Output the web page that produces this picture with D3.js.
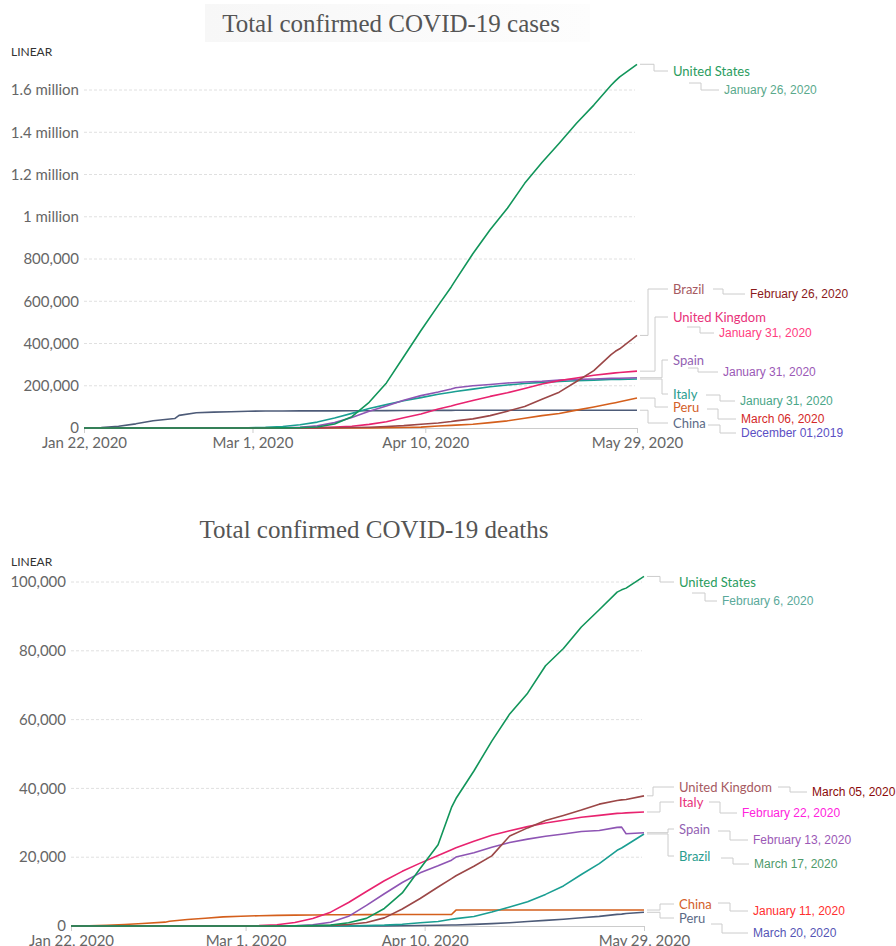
<!DOCTYPE html>
<html>
<head>
<meta charset="utf-8">
<script src="https://cdnjs.cloudflare.com/ajax/libs/d3/7.8.5/d3.min.js"></script>
<style>
  body { margin: 0; background: #fff; }
  svg { display: block; }
</style>
</head>
<body>
<svg width="896" height="946"></svg>
<script>

// sample dates shared by every series
var dates = ["2020-01-22","2020-01-26","2020-01-30","2020-02-03","2020-02-07","2020-02-12","2020-02-13",
  "2020-02-17","2020-02-21","2020-02-25","2020-02-29","2020-03-04","2020-03-08","2020-03-12","2020-03-16",
  "2020-03-20","2020-03-24","2020-03-28","2020-04-01","2020-04-05","2020-04-09","2020-04-13","2020-04-16",
  "2020-04-17","2020-04-21","2020-04-25","2020-04-29","2020-05-03","2020-05-07","2020-05-11","2020-05-15",
  "2020-05-19","2020-05-23","2020-05-24","2020-05-25","2020-05-29"];

var xTickDates = ["2020-01-22", "2020-03-01", "2020-04-10", "2020-05-29"];

// total confirmed cases
var casesUS = [1,5,6,11,12,13,14,15,15,53,68,158,537,1663,4632,19100,53740,121478,213372,337072,461437,580619,667801,699706,825041,938154,1039909,1158040,1257023,1347881,1442824,1528568,1622670,1643246,1662302,1721750];
var casesBrazil = [0,0,0,0,0,0,0,0,0,0,2,4,25,52,234,904,2247,3904,6836,11130,17857,23430,30425,33682,43079,58509,79685,101826,135773,169594,220291,271885,347398,363211,374898,438238];
var casesUK = [0,0,0,2,3,8,9,9,9,13,23,86,273,459,1551,4014,8164,17312,29865,48440,65872,89570,104145,109769,130184,149569,166441,186599,207977,224332,237071,249619,258504,260916,262547,269127];
var casesSpain = [0,0,0,1,1,2,2,2,2,6,84,222,673,3146,9942,25374,49515,78797,104118,131646,153222,170099,184948,190839,200210,205905,212917,217466,221447,227436,230183,232037,234824,235290,235400,237906];
var casesItaly = [0,0,0,2,3,3,3,3,20,322,1128,3089,7375,15113,27980,47021,69176,92472,110574,128948,143626,159516,168941,172434,183957,195351,203591,210717,215858,219814,223885,226699,229327,229858,230158,231732];
var casesPeru = [0,0,0,0,0,0,0,0,0,0,0,0,7,22,86,234,416,671,1323,2281,4342,9784,12491,13489,17837,25331,33931,45928,58526,68822,84495,99483,115754,119959,123979,141779];
var casesChina = [548,2116,8123,19716,34110,44653,59895,72436,75077,77262,79356,80270,80699,80932,81033,81250,81591,81999,82361,82602,82883,83213,83402,83760,83864,83912,83944,83959,83970,84010,84029,84063,84084,84095,84102,84106];

var casesNames = ["United States", "Brazil", "United Kingdom", "Spain", "Italy", "Peru", "China"];
var casesFirst = ["January 26, 2020", "February 26, 2020", "January 31, 2020", "January 31, 2020", "January 31, 2020", "March 06, 2020", "December 01,2019"];
var casesYTicks = [0, 200000, 400000, 600000, 800000, 1000000, 1200000, 1400000, 1600000];

// total confirmed deaths
var deathsUS = [0,0,0,0,0,0,0,0,0,0,1,11,21,41,97,260,944,2220,5102,9618,16697,23640,34475,37054,45063,53755,61656,67680,75662,80682,86912,91921,97049,97720,98220,101617];
var deathsUK = [0,0,0,0,0,0,0,0,0,0,0,0,3,8,56,178,423,1021,2357,4943,7993,11347,13759,14607,17378,20381,26166,28520,30689,32141,33693,35422,36475,36675,36793,37837];
var deathsItaly = [0,0,0,0,0,0,0,0,1,11,29,107,366,1016,2158,4032,6820,10023,13155,15887,18279,20465,22170,22745,24648,26384,27682,28884,29958,30739,31610,32169,32735,32785,32877,33142];
var deathsSpain = [0,0,0,0,0,0,0,0,0,0,0,2,17,86,342,1093,2808,5982,9387,12641,15447,17489,19130,20043,21282,22902,24275,25264,26070,26744,27459,27778,28678,28752,26834,27119];
var deathsBrazil = [0,0,0,0,0,0,0,0,0,0,0,0,0,0,0,11,46,114,241,486,950,1328,1952,2141,2741,4057,5513,7051,9188,11653,14962,18130,22013,22666,23473,26754];
var deathsChina = [17,80,213,425,724,1115,1372,1868,2239,2663,2837,2983,3100,3173,3218,3249,3281,3299,3316,3330,3339,3341,3342,4632,4636,4637,4637,4637,4637,4637,4638,4638,4638,4638,4638,4638];
var deathsPeru = [0,0,0,0,0,0,0,0,0,0,0,0,0,0,0,5,7,18,30,73,138,230,274,300,484,700,943,1286,1627,1961,2392,2789,3373,3456,3629,3983];

var deathsNames = ["United States", "United Kingdom", "Italy", "Spain", "Brazil", "China", "Peru"];
var deathsFirst = ["February 6, 2020", "March 05, 2020", "February 22, 2020", "February 13, 2020", "March 17, 2020", "January 11, 2020", "March 20, 2020"];
var deathsYTicks = [0, 20000, 40000, 60000, 80000, 100000];

// colours by rank (line, label, date)
var rankColors = [
  ["#11955a", "#2a9c5e", "#5aa98c"],
  ["#9b4747", "#a65a62", "#8b1a1a"],
  ["#e8236f", "#e8327a", "#ff3d7f"],
  ["#8e55b4", "#9261b2", "#9b59b6"],
  ["#1a9e92", "#2a9d8f", "#4aa688"],
  ["#d45f1c", "#d4602a", "#d42828"],
  ["#4d5b78", "#5b6a86", "#5b4fc4"]
];
var deathDateColors = ["#5aa99a", "#8b0a0a", "#ff22dd", "#9b59b6", "#4f9a6a", "#ff2f2f", "#5555b5"];

var parse = d3.timeParse("%Y-%m-%d");
var fmtDate = d3.timeFormat("%b %-d, %Y");
var svg = d3.select("svg");

function fmtCases(v) {
  if (v >= 1000000) return (v / 1000000) + " million";
  return d3.format(",")(v);
}

// faint fading box behind the first title
var grad = svg.append("defs").append("linearGradient").attr("id", "tbox");
grad.append("stop").attr("offset", "0%").attr("stop-color", "#f7f7f7");
grad.append("stop").attr("offset", "100%").attr("stop-color", "#fdfdfd");

function drawChart(c) {
  var x = d3.scaleTime()
      .domain([parse(dates[0]), parse(dates[dates.length - 1])])
      .range([c.x0, c.x1]);
  var y = d3.scaleLinear().domain([0, c.yMax]).range([c.y0, c.y1]);

  if (c.titleBox) {
    svg.append("rect")
        .attr("x", 205).attr("y", 4).attr("width", 385).attr("height", 38)
        .attr("fill", "url(#tbox)");
  }
  svg.append("text")
      .attr("x", c.titleX).attr("y", c.titleY)
      .attr("text-anchor", "middle")
      .style("font-family", "'Liberation Serif', serif")
      .style("font-size", "25px")
      .attr("fill", "#555")
      .text(c.title);

  svg.append("text")
      .attr("x", 11).attr("y", c.linearY)
      .style("font-family", "Lato, sans-serif")
      .style("font-size", "12px")
      .attr("fill", "#333")
      .text("LINEAR");

  // grid + y labels
  c.yTicks.forEach(function(v) {
    if (v > 0) {
      svg.append("line")
          .attr("x1", c.x0).attr("x2", c.x1 - 2)
          .attr("y1", y(v)).attr("y2", y(v))
          .attr("stroke", "#e0e0e0")
          .attr("stroke-dasharray", "3,2");
    }
    svg.append("text")
        .attr("x", c.labelRight).attr("y", y(v)).attr("dy", "0.35em")
        .attr("text-anchor", "end")
        .style("font-family", "Lato, sans-serif")
        .style("font-size", "15px")
        .attr("fill", "#666")
        .text(c.fmt(v));
  });

  // x axis
  var ax = svg.append("g").attr("transform", "translate(0," + c.y0 + ")")
      .call(d3.axisBottom(x)
          .tickValues(xTickDates.map(parse))
          .tickFormat(fmtDate)
          .tickSize(5)
          .tickPadding(4));
  ax.select(".domain").attr("stroke", "#ccc");
  ax.selectAll(".tick line").attr("stroke", "#ccc");
  ax.selectAll(".tick text")
      .style("font-family", "Lato, sans-serif")
      .style("font-size", "15px")
      .attr("fill", "#666");

  var line = d3.line()
      .x(function(d, i) { return x(parse(dates[i])); })
      .y(function(d) { return y(d); });

  // draw from last rank to first so the leader sits on top
  for (i = c.series.length - 1; i >= 0; --i) {
    svg.append("path")
        .datum(c.series[i])
        .attr("d", line)
        .attr("fill", "none")
        .attr("stroke", rankColors[i][0])
        .attr("stroke-width", 1.6)
        .attr("stroke-linejoin", "round");
  }

  // end labels
  c.series.forEach(function(vals, i) {
    var L = c.layout[i];
    var yEnd = y(vals[vals.length - 1]);
    svg.append("path")
        .attr("d", "M" + (c.x1 + 3) + "," + yEnd + "H" + L[0] + "V" + L[1] + "H" + (c.nameX - 5))
        .attr("fill", "none").attr("stroke", "#ccc");
    svg.append("text")
        .attr("x", c.nameX).attr("y", L[1]).attr("dy", "0.35em")
        .style("font-family", "Lato, sans-serif")
        .style("font-size", "13px")
        .attr("fill", rankColors[i][1])
        .text(c.names[i]);
    svg.append("path")
        .attr("d", "M" + L[2] + "," + L[3] + "H" + L[4] + "V" + L[5] + "H" + (L[6] - 5))
        .attr("fill", "none").attr("stroke", "#ccc");
    svg.append("text")
        .attr("x", L[6]).attr("y", L[5]).attr("dy", "0.35em")
        .style("font-family", "'Liberation Sans', Arial, sans-serif")
        .style("font-size", "12px")
        .attr("fill", c.dateColors[i])
        .text(c.first[i]);
  });
}

var i;

// layout rows: elbowX, nameY, dateLinkX, dateLinkY, dateElbowX, dateY, dateX
drawChart({
  title: "Total confirmed COVID-19 cases", titleX: 391, titleY: 32, titleBox: true,
  linearY: 56,
  x0: 84, x1: 637, y0: 428, y1: 90, yMax: 1600000,
  labelRight: 79, fmt: fmtCases, yTicks: casesYTicks,
  series: [casesUS, casesBrazil, casesUK, casesSpain, casesItaly, casesPeru, casesChina],
  names: casesNames, first: casesFirst,
  dateColors: rankColors.map(function(r) { return r[2]; }),
  nameX: 673,
  layout: [
    [654, 71, 689, 83, 701, 90, 724],
    [648, 289, 713, 289, 723, 294, 750],
    [655, 317, 687, 327, 700, 333, 719],
    [662, 360, 688, 368, 698, 372, 723],
    [662, 394, 706, 395, 720, 401, 740],
    [655, 407, 707, 409, 718, 419, 741],
    [648, 423, 708, 425, 720, 433, 741]
  ]
});

drawChart({
  title: "Total confirmed COVID-19 deaths", titleX: 374, titleY: 538, titleBox: false,
  linearY: 566,
  x0: 71, x1: 644, y0: 926, y1: 582, yMax: 100000,
  labelRight: 66, fmt: d3.format(","), yTicks: deathsYTicks,
  series: [deathsUS, deathsUK, deathsItaly, deathsSpain, deathsBrazil, deathsChina, deathsPeru],
  names: deathsNames, first: deathsFirst,
  dateColors: deathDateColors,
  nameX: 679,
  layout: [
    [660, 582, 692, 593, 705, 601, 722],
    [653, 787, 778, 787, 790, 792, 812],
    [660, 802, 709, 802, 720, 813, 742],
    [668, 829, 718, 831, 730, 840, 753],
    [668, 856, 721, 858, 733, 864, 754],
    [660, 904, 718, 903, 730, 911, 753],
    [660, 918, 711, 924, 722, 933, 753]
  ]
});

</script>
</body>
</html>
